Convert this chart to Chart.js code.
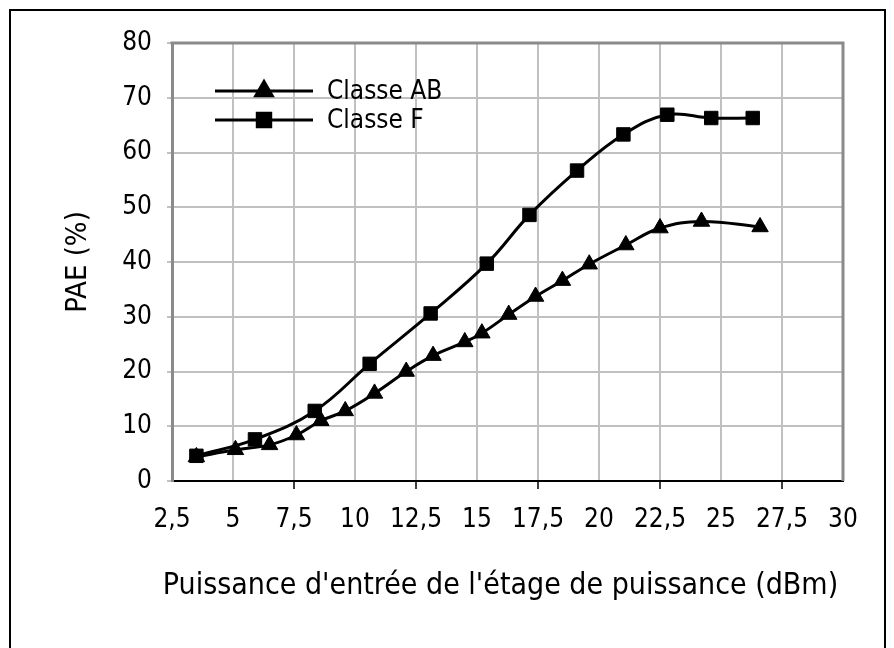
<!DOCTYPE html>
<html>
<head>
<meta charset="utf-8">
<script src="https://cdn.jsdelivr.net/npm/chart.js@4.4.1/dist/chart.umd.min.js"></script>
<style>
  html, body { margin: 0; padding: 0; background: #fff; }
  canvas { display: block; }
</style>
</head>
<body>
<canvas id="pae" width="894" height="648"></canvas>
<script>
// Series names, input power (dBm) and PAE (%) for each amplifier class
const seriesNames = ['Classe AB', 'Classe F'];
const abInput = [3.5, 5.1, 6.5, 7.6, 8.6, 9.6, 10.8, 12.1, 13.2, 14.5, 15.2, 16.3, 17.4, 18.5, 19.6, 21.1, 22.5, 24.2, 26.6];
const abPae   = [4.4, 5.7, 6.6, 8.4, 11.0, 12.8, 16.0, 20.0, 22.9, 25.4, 27.0, 30.4, 33.7, 36.6, 39.6, 43.1, 46.2, 47.4, 46.4];
const fInput  = [3.5, 5.9, 8.35, 10.6, 13.1, 15.4, 17.15, 19.1, 21.0, 22.8, 24.6, 26.3];
const fPae    = [4.6, 7.6, 12.8, 21.4, 30.6, 39.7, 48.6, 56.7, 63.3, 66.9, 66.3, 66.3];

// Axis ticks and titles
const xTickValues = [2.5, 5, 7.5, 10, 12.5, 15, 17.5, 20, 22.5, 25, 27.5, 30];
const xTickLabels = ['2,5', '5', '7,5', '10', '12,5', '15', '17,5', '20', '22,5', '25', '27,5', '30'];
const yTickValues = [0, 10, 20, 30, 40, 50, 60, 70, 80];
const xTitle = "Puissance d'entrée de l'étage de puissance (dBm)";
const yTitle = 'PAE (%)';

const FONT = "'DejaVu Sans Condensed', 'Liberation Sans', Arial, sans-serif";
const GRID = '#c0c0c0';
const FRAME = '#8a8a8a';

const toPoints = (xs, ys) => xs.map((x, i) => ({ x, y: ys[i] }));

// White page with a thin black frame on the left, top and right
const pageFrame = {
  id: 'pageFrame',
  beforeDraw(chart) {
    const { ctx, width, height } = chart;
    ctx.save();
    ctx.fillStyle = '#fff';
    ctx.fillRect(0, 0, width, height);
    ctx.strokeStyle = '#000';
    ctx.lineWidth = 2;
    ctx.beginPath();
    ctx.moveTo(10, height);
    ctx.lineTo(10, 10);
    ctx.lineTo(885, 10);
    ctx.lineTo(885, height);
    ctx.stroke();
    ctx.restore();
  }
};

// Grey border on the top and right of the plot area
const plotBorder = {
  id: 'plotBorder',
  beforeDatasetsDraw(chart) {
    const { ctx, chartArea: a } = chart;
    ctx.save();
    ctx.strokeStyle = FRAME;
    ctx.lineWidth = 3;
    ctx.beginPath();
    ctx.moveTo(a.left - 1.5, a.top);
    ctx.lineTo(a.right, a.top);
    ctx.lineTo(a.right, a.bottom);
    ctx.stroke();
    ctx.restore();
  }
};

// Horizontal axis title, set slightly left of the plot centre
const xAxisTitle = {
  id: 'xAxisTitle',
  afterDraw(chart) {
    const { ctx, chartArea: a } = chart;
    ctx.save();
    ctx.fillStyle = '#000';
    ctx.font = `30px ${FONT}`;
    ctx.textAlign = 'center';
    ctx.textBaseline = 'middle';
    ctx.fillText(xTitle, (a.left + a.right) / 2 - 7, a.bottom + 105);
    ctx.restore();
  }
};

// Legend drawn inside the plot: line with marker, then the series name
const insideLegend = {
  id: 'insideLegend',
  afterDraw(chart) {
    const { ctx } = chart;
    ctx.save();
    chart.data.datasets.forEach((ds, i) => {
      const y = 91 + i * 29;
      ctx.strokeStyle = ds.borderColor;
      ctx.lineWidth = ds.borderWidth;
      ctx.beginPath();
      ctx.moveTo(215, y);
      ctx.lineTo(313, y);
      ctx.stroke();
      ctx.fillStyle = ds.pointBackgroundColor;
      ctx.strokeStyle = ds.pointBorderColor;
      Chart.helpers.drawPoint(ctx, {
        pointStyle: ds.pointStyle, radius: ds.pointRadius, rotation: 0, borderWidth: 1
      }, 264, y);
      ctx.fillStyle = '#000';
      ctx.font = `26px ${FONT}`;
      ctx.textAlign = 'left';
      ctx.textBaseline = 'middle';
      ctx.fillText(ds.label, 327, y + 1);
    });
    ctx.restore();
  }
};

const lineStyle = {
  showLine: true,
  borderColor: '#000',
  borderWidth: 3,
  pointBackgroundColor: '#000',
  pointBorderColor: '#000',
  pointBorderWidth: 1,
  tension: 0.4,
  fill: false
};

new Chart(document.getElementById('pae'), {
  type: 'scatter',
  data: {
    datasets: [
      { ...lineStyle, label: seriesNames[0], data: toPoints(abInput, abPae),
        pointStyle: 'triangle', pointRadius: 9.5, order: 1 },
      { ...lineStyle, label: seriesNames[1], data: toPoints(fInput, fPae),
        pointStyle: 'rect', pointRadius: 9.5, order: 0 }
    ]
  },
  options: {
    responsive: false,
    animation: false,
    layout: { padding: { left: 0, top: 43, right: 51, bottom: 0 } },
    plugins: { legend: { display: false }, tooltip: { enabled: false } },
    scales: {
      x: {
        type: 'linear',
        min: 2.5, max: 30,
        afterFit: s => { s.height = 167; },
        afterBuildTicks: s => { s.ticks = xTickValues.map(v => ({ value: v })); },
        border: { display: true, color: '#000', width: 2 },
        grid: {
          color: GRID, lineWidth: 2, tickLength: 8, tickWidth: 1.5,
          tickColor: c => (c.tick && Math.round(c.tick.value / 2.5) % 2 === 1 && c.tick.value > 2.5) ? '#000' : 'rgba(0,0,0,0)'
        },
        ticks: {
          color: '#000', padding: 16, maxRotation: 0, autoSkip: false,
          font: { family: FONT, size: 26 },
          callback: (v, i) => xTickLabels[i]
        }
      },
      y: {
        type: 'linear',
        min: 0, max: 80,
        afterFit: s => { s.width = 172; },
        afterBuildTicks: s => { s.ticks = yTickValues.map(v => ({ value: v })); },
        border: { display: true, color: FRAME, width: 3 },
        grid: { color: GRID, lineWidth: 2, tickLength: 5, tickColor: GRID },
        ticks: {
          color: '#000', padding: 15,
          font: { family: FONT, size: 26 }
        },
        title: {
          display: true, text: yTitle, color: '#000',
          font: { family: FONT, size: 29 },
          padding: { top: 61, bottom: 0 }
        }
      }
    }
  },
  plugins: [pageFrame, plotBorder, xAxisTitle, insideLegend]
});
</script>
</body>
</html>
